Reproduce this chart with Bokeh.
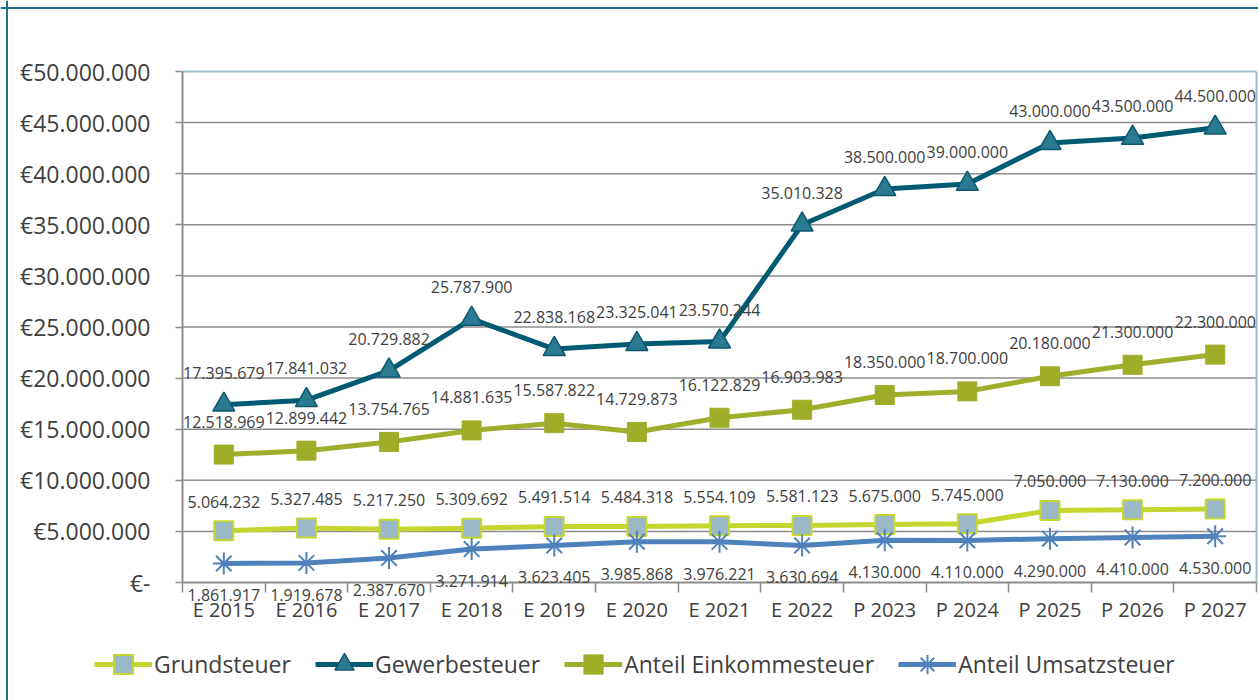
from bokeh.plotting import figure
from bokeh.models import (ColumnDataSource, LabelSet, Legend, LegendItem, FixedTicker,
                          Range1d, LinearAxis, Span)
from bokeh.embed import file_html
from bokeh.resources import INLINE
from bokeh.core.properties import value

# ---------------- data ----------------
categories = ["E 2015", "E 2016", "E 2017", "E 2018", "E 2019", "E 2020", "E 2021",
              "E 2022", "P 2023", "P 2024", "P 2025", "P 2026", "P 2027"]
grundsteuer = [5064232, 5327485, 5217250, 5309692, 5491514, 5484318, 5554109,
               5581123, 5675000, 5745000, 7050000, 7130000, 7200000]
gewerbesteuer = [17395679, 17841032, 20729882, 25787900, 22838168, 23325041, 23570244,
                 35010328, 38500000, 39000000, 43000000, 43500000, 44500000]
einkommensteuer = [12518969, 12899442, 13754765, 14881635, 15587822, 14729873, 16122829,
                   16903983, 18350000, 18700000, 20180000, 21300000, 22300000]
umsatzsteuer = [1861917, 1919678, 2387670, 3271914, 3623405, 3985868, 3976221,
                3630694, 4130000, 4110000, 4290000, 4410000, 4530000]
series_names = ["Grundsteuer", "Gewerbesteuer", "Anteil Einkommesteuer", "Anteil Umsatzsteuer"]
y_ticks = [0, 5000000, 10000000, 15000000, 20000000, 25000000,
           30000000, 35000000, 40000000, 45000000, 50000000]
y_tick_labels = ["€-", "€5.000.000", "€10.000.000", "€15.000.000", "€20.000.000",
                 "€25.000.000", "€30.000.000", "€35.000.000", "€40.000.000",
                 "€45.000.000", "€50.000.000"]

# ---------------- layout (pixels) ----------------
W, H = 1258, 700
PL, PR, PT, PB = 182, 1256, 71, 582   # plot-area edges

FONT = "Open Sans"
TXT = "#404040"
GRID = "#8c8c8c"


def de(v):
    return f"{v:,}".replace(",", ".")


n = len(categories)
ymax = y_ticks[-1]
xpp = n / (PR - PL)
ypp = ymax / (PB - PT)
xs = [i + 0.5 for i in range(n)]

p = figure(width=W, height=H, output_backend="svg", toolbar_location=None,
           x_axis_location=None, y_axis_location=None,
           x_range=Range1d(-PL * xpp, n + (W - PR) * xpp),
           y_range=Range1d(-(H - PB) * ypp, ymax + PT * ypp),
           min_border=0)
p.background_fill_color = "white"
p.border_fill_color = "white"
p.outline_line_color = None
p.grid.visible = False

# outer chart border (left / top)
p.add_layout(Span(location=(6.5 - PL) * xpp, dimension="height",
                  line_color="#23708c", line_width=2))
p.add_layout(Span(location=(PB - 7.5) * ypp, dimension="width",
                  line_color="#23708c", line_width=2))

# horizontal grid lines and plot-area border
gy = y_ticks[1:-1]
p.segment(x0=[0] * len(gy), x1=[n] * len(gy), y0=gy, y1=gy, line_color=GRID, line_width=1.5)
p.segment(x0=[0, n], x1=[n, n], y0=[ymax, 0], y1=[ymax, ymax],
          line_color="#9dbfcf", line_width=2)

# axes
ya = LinearAxis(fixed_location=0, bounds=(0, ymax), ticker=FixedTicker(ticks=y_ticks))
ya.major_label_overrides = {t: l for t, l in zip(y_ticks, y_tick_labels)}
ya.major_tick_line_color = GRID
ya.major_tick_line_width = 1.5
ya.major_tick_out = 7
ya.major_tick_in = 0
ya.minor_tick_line_color = None
ya.axis_line_color = GRID
ya.axis_line_width = 2
ya.major_label_text_font = FONT
ya.major_label_text_font_size = "23px"
ya.major_label_text_color = TXT
ya.major_label_standoff = 25
p.add_layout(ya, "left")

xa = LinearAxis(fixed_location=0, bounds=(0, n),
                ticker=FixedTicker(ticks=xs, minor_ticks=list(range(n + 1))))
xa.major_label_overrides = {x: c for x, c in zip(xs, categories)}
xa.major_tick_line_color = None
xa.major_tick_out = 0
xa.major_tick_in = 0
xa.minor_tick_line_color = GRID
xa.minor_tick_line_width = 1.5
xa.minor_tick_out = 10
xa.minor_tick_in = 0
xa.axis_line_color = GRID
xa.axis_line_width = 2
xa.major_label_text_font = FONT
xa.major_label_text_font_size = "20px"
xa.major_label_text_color = TXT
xa.major_label_standoff = 3
p.add_layout(xa, "below")

src = ColumnDataSource(dict(
    x=xs,
    g=grundsteuer, gw=gewerbesteuer, e=einkommensteuer, u=umsatzsteuer,
    g_t=[de(v) for v in grundsteuer], gw_t=[de(v) for v in gewerbesteuer],
    e_t=[de(v) for v in einkommensteuer], u_t=[de(v) for v in umsatzsteuer],
))

items = []
l1 = p.line("x", "g", source=src, line_color="#c5d62e", line_width=5)
m1 = p.scatter("x", "g", source=src, marker="square", size=19,
               fill_color="#9bb8c6", line_color="#c5d62e", line_width=2)
items.append(LegendItem(label=series_names[0], renderers=[l1, m1]))
l2 = p.line("x", "gw", source=src, line_color="#005a72", line_width=5)
m2 = p.scatter("x", "gw", source=src, marker="triangle", size=22,
               fill_color="#2a7a92", line_color="#0d5870", line_width=1.5)
items.append(LegendItem(label=series_names[1], renderers=[l2, m2]))
l3 = p.line("x", "e", source=src, line_color="#9fae2b", line_width=5)
m3 = p.scatter("x", "e", source=src, marker="square", size=19,
               fill_color="#a0ad29", line_color="#a0ad29", line_width=1)
items.append(LegendItem(label=series_names[2], renderers=[l3, m3]))
l4 = p.line("x", "u", source=src, line_color="#4f81bd", line_width=5)
m4 = p.scatter("x", "u", source=src, marker="asterisk", size=22,
               line_color="#4f81bd", line_width=2)
items.append(LegendItem(label=series_names[3], renderers=[l4, m4]))

label_common = dict(source=src, text_font=value(FONT), text_font_size="16px",
                    text_color=TXT, text_align="center", text_baseline="middle")
p.add_layout(LabelSet(x="x", y="g", text="g_t", y_offset=29, **label_common))
p.add_layout(LabelSet(x="x", y="gw", text="gw_t", y_offset=32, **label_common))
p.add_layout(LabelSet(x="x", y="e", text="e_t", y_offset=33, **label_common))
p.add_layout(LabelSet(x="x", y="u", text="u_t", y_offset=-32, **label_common))

legend = Legend(items=items, orientation="horizontal", location=(94, 12),
                label_text_font=FONT, label_text_font_size="23px", label_text_color=TXT,
                glyph_width=58, glyph_height=48, spacing=24, label_standoff=2,
                padding=0, margin=0, border_line_color=None, background_fill_alpha=0)
p.add_layout(legend, "center")

open("out.html", "w").write(file_html(p, INLINE))
